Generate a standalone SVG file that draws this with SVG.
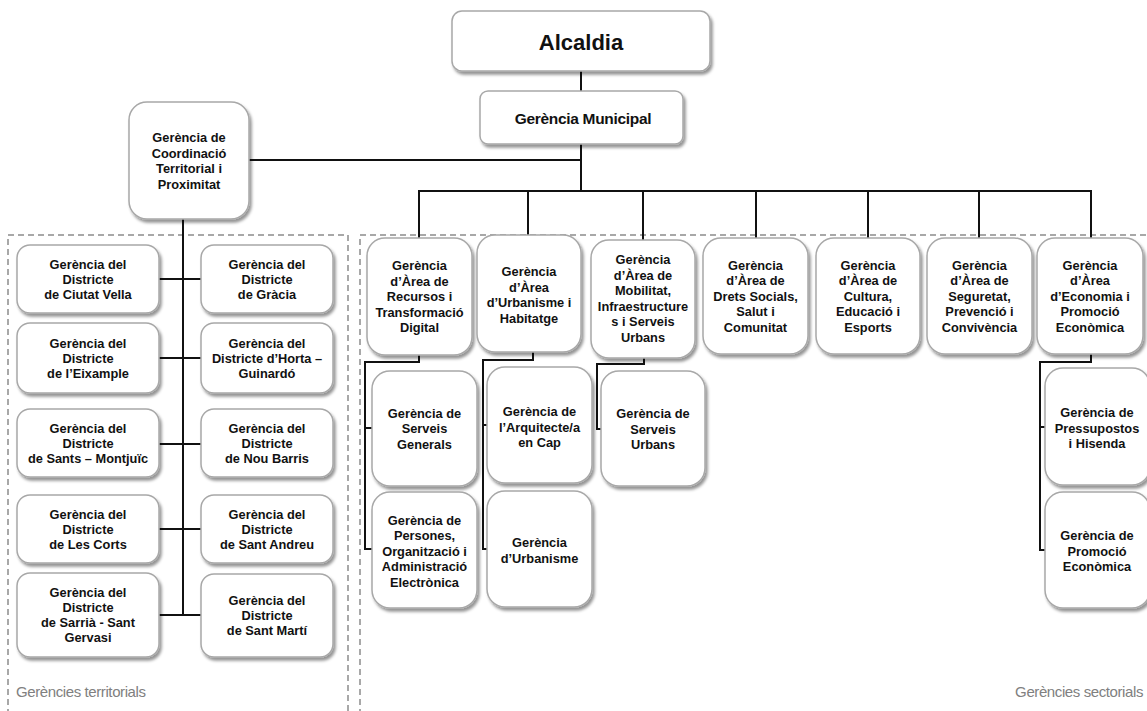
<svg xmlns="http://www.w3.org/2000/svg" width="1147" height="711" viewBox="0 0 1147 711">
<defs>
<filter id="sh" x="-10%" y="-10%" width="130%" height="130%">
<feDropShadow dx="2" dy="3" stdDeviation="1.6" flood-color="#000" flood-opacity="0.42"/>
</filter>
<style>
.box{fill:#fff;stroke:#a8a8a8;stroke-width:1.5;filter:url(#sh)}
.t{font-family:"Liberation Sans",Arial,sans-serif;font-weight:bold;font-size:12.8px;text-anchor:middle;fill:#111}
.conn{fill:none;stroke:#111;stroke-width:2}
.dash{fill:none;stroke:#8c8c8c;stroke-width:1.5;stroke-dasharray:6 4}
.lbl{font-family:"Liberation Sans",Arial,sans-serif;font-size:15px;fill:#808080;letter-spacing:-0.4px}
</style>
</defs>
<rect width="1147" height="711" fill="#fff"/>
<g id="groups">
<rect class="dash" x="8" y="235" width="340" height="500"/>
<rect class="dash" x="360" y="235" width="800" height="500"/>
<text class="lbl" x="16" y="697">Gerències territorials</text>
<text class="lbl" x="1143" y="697" text-anchor="end">Gerències sectorials</text>
</g>
<g id="connectors">
<path class="conn" d="M581 71V91M581 144V191M249 160H581M419 238V191H1091V238M528 191V235M643 191V240M756 191V238M868 191V238M979 191V238"/>
<path class="conn" d="M183 219V615M159 279H201M159 358H201M159 444H201M159 529H201M159 615H201"/>
<path class="conn" d="M419 355V362H365V549H372M365 428H372"/>
<path class="conn" d="M533 352V360H483V549H487M483 425H487"/>
<path class="conn" d="M644 358V364H597V429H601"/>
<path class="conn" d="M1091 354V362H1040V550H1045M1040 427H1045"/>
</g>
<g id="alcaldia"><rect class="box" x="452" y="11" width="258" height="60" rx="10"/>
<text class="t" x="581" y="50" style="font-size:22px">Alcaldia</text></g>
<g id="gerencia-municipal"><rect class="box" x="480" y="91" width="203" height="53" rx="8"/>
<text class="t" x="583" y="124" style="font-size:15.5px;letter-spacing:-0.3px">Gerència Municipal</text></g>
<g id="coordinacio"><rect class="box" x="129" y="102" width="120" height="117" rx="18"/>
<text class="t" x="189" y="142"><tspan x="189">Gerència de</tspan><tspan x="189" dy="15.5">Coordinació</tspan><tspan x="189" dy="15.5">Territorial i</tspan><tspan x="189" dy="15.5">Proximitat</tspan></text></g>

<g id="ciutat-vella"><rect class="box" x="17" y="245" width="142" height="68" rx="13"/>
<text class="t" y="269"><tspan x="88">Gerència del</tspan><tspan x="88" dy="15">Districte</tspan><tspan x="88" dy="15">de Ciutat Vella</tspan></text></g>
<g id="gracia"><rect class="box" x="201" y="245" width="132" height="68" rx="13"/>
<text class="t" y="269"><tspan x="267">Gerència del</tspan><tspan x="267" dy="15">Districte</tspan><tspan x="267" dy="15">de Gràcia</tspan></text></g>
<g id="eixample"><rect class="box" x="17" y="323" width="142" height="70" rx="13"/>
<text class="t" y="348"><tspan x="88">Gerència del</tspan><tspan x="88" dy="15">Districte</tspan><tspan x="88" dy="15">de l’Eixample</tspan></text></g>
<g id="horta"><rect class="box" x="201" y="323" width="132" height="70" rx="13"/>
<text class="t" y="348"><tspan x="267">Gerència del</tspan><tspan x="267" dy="15">Districte d’Horta –</tspan><tspan x="267" dy="15">Guinardó</tspan></text></g>
<g id="sants"><rect class="box" x="17" y="409" width="142" height="68" rx="13"/>
<text class="t" y="433"><tspan x="88">Gerència del</tspan><tspan x="88" dy="15">Districte</tspan><tspan x="88" dy="15">de Sants – Montjuïc</tspan></text></g>
<g id="nou-barris"><rect class="box" x="201" y="409" width="132" height="68" rx="13"/>
<text class="t" y="433"><tspan x="267">Gerència del</tspan><tspan x="267" dy="15">Districte</tspan><tspan x="267" dy="15">de Nou Barris</tspan></text></g>
<g id="les-corts"><rect class="box" x="17" y="495" width="142" height="68" rx="13"/>
<text class="t" y="519"><tspan x="88">Gerència del</tspan><tspan x="88" dy="15">Districte</tspan><tspan x="88" dy="15">de Les Corts</tspan></text></g>
<g id="sant-andreu"><rect class="box" x="201" y="495" width="132" height="68" rx="13"/>
<text class="t" y="519"><tspan x="267">Gerència del</tspan><tspan x="267" dy="15">Districte</tspan><tspan x="267" dy="15">de Sant Andreu</tspan></text></g>
<g id="sarria"><rect class="box" x="17" y="573" width="142" height="84" rx="13"/>
<text class="t" y="596.5"><tspan x="88">Gerència del</tspan><tspan x="88" dy="15.3">Districte</tspan><tspan x="88" dy="15.3">de Sarrià - Sant</tspan><tspan x="88" dy="15.3">Gervasi</tspan></text></g>
<g id="sant-marti"><rect class="box" x="201" y="574" width="132" height="83" rx="13"/>
<text class="t" y="604.5"><tspan x="267">Gerència del</tspan><tspan x="267" dy="15">Districte</tspan><tspan x="267" dy="15">de Sant Martí</tspan></text></g>

<g id="recursos"><rect class="box" x="367" y="238" width="105" height="117" rx="18"/>
<text class="t" y="270"><tspan x="419.5">Gerència</tspan><tspan x="419.5" dy="15.5">d’Àrea de</tspan><tspan x="419.5" dy="15.5">Recursos i</tspan><tspan x="419.5" dy="15.5">Transformació</tspan><tspan x="419.5" dy="15.5">Digital</tspan></text></g>
<g id="urbanisme-habitatge"><rect class="box" x="477" y="235" width="104" height="117" rx="18"/>
<text class="t" y="276"><tspan x="529">Gerència</tspan><tspan x="529" dy="15.5">d’Àrea</tspan><tspan x="529" dy="15.5">d’Urbanisme i</tspan><tspan x="529" dy="15.5">Habitatge</tspan></text></g>
<g id="mobilitat"><rect class="box" x="591" y="240" width="104" height="118" rx="18"/>
<text class="t" y="264"><tspan x="643">Gerència</tspan><tspan x="643" dy="15.5">d’Àrea de</tspan><tspan x="643" dy="15.5">Mobilitat,</tspan><tspan x="643" dy="15.5">Infraestructure</tspan><tspan x="643" dy="15.5">s i Serveis</tspan><tspan x="643" dy="15.5">Urbans</tspan></text></g>
<g id="drets-socials"><rect class="box" x="703" y="238" width="105" height="116" rx="18"/>
<text class="t" y="269.5"><tspan x="755.5">Gerència</tspan><tspan x="755.5" dy="15.5">d’Àrea de</tspan><tspan x="755.5" dy="15.5">Drets Socials,</tspan><tspan x="755.5" dy="15.5">Salut i</tspan><tspan x="755.5" dy="15.5">Comunitat</tspan></text></g>
<g id="cultura"><rect class="box" x="816" y="238" width="104" height="116" rx="18"/>
<text class="t" y="269.5"><tspan x="868">Gerència</tspan><tspan x="868" dy="15.5">d’Àrea de</tspan><tspan x="868" dy="15.5">Cultura,</tspan><tspan x="868" dy="15.5">Educació i</tspan><tspan x="868" dy="15.5">Esports</tspan></text></g>
<g id="seguretat"><rect class="box" x="927" y="238" width="105" height="116" rx="18"/>
<text class="t" y="269.5"><tspan x="979.5">Gerència</tspan><tspan x="979.5" dy="15.5">d’Àrea de</tspan><tspan x="979.5" dy="15.5">Seguretat,</tspan><tspan x="979.5" dy="15.5">Prevenció i</tspan><tspan x="979.5" dy="15.5">Convivència</tspan></text></g>
<g id="economia"><rect class="box" x="1037" y="238" width="106" height="116" rx="18"/>
<text class="t" y="269.5"><tspan x="1090">Gerència</tspan><tspan x="1090" dy="15.5">d’Àrea</tspan><tspan x="1090" dy="15.5">d’Economia i</tspan><tspan x="1090" dy="15.5">Promoció</tspan><tspan x="1090" dy="15.5">Econòmica</tspan></text></g>

<g id="serveis-generals"><rect class="box" x="372" y="371" width="105" height="115" rx="18"/>
<text class="t" y="417.5"><tspan x="424.5">Gerència de</tspan><tspan x="424.5" dy="15.5">Serveis</tspan><tspan x="424.5" dy="15.5">Generals</tspan></text></g>
<g id="persones"><rect class="box" x="372" y="492" width="105" height="116" rx="18"/>
<text class="t" y="524.5"><tspan x="424.5">Gerència de</tspan><tspan x="424.5" dy="15.5">Persones,</tspan><tspan x="424.5" dy="15.5">Organització i</tspan><tspan x="424.5" dy="15.5">Administració</tspan><tspan x="424.5" dy="15.5">Electrònica</tspan></text></g>
<g id="arquitecte"><rect class="box" x="487" y="367" width="105" height="116" rx="18"/>
<text class="t" y="416"><tspan x="539.5">Gerència de</tspan><tspan x="539.5" dy="15.5">l’Arquitecte/a</tspan><tspan x="539.5" dy="15.5">en Cap</tspan></text></g>
<g id="urbanisme"><rect class="box" x="487" y="491" width="105" height="116" rx="18"/>
<text class="t" y="547"><tspan x="539.5">Gerència</tspan><tspan x="539.5" dy="15.5">d’Urbanisme</tspan></text></g>
<g id="serveis-urbans"><rect class="box" x="601" y="371" width="104" height="115" rx="18"/>
<text class="t" y="418"><tspan x="653">Gerència de</tspan><tspan x="653" dy="15.5">Serveis</tspan><tspan x="653" dy="15.5">Urbans</tspan></text></g>
<g id="pressupostos"><rect class="box" x="1045" y="368" width="105" height="117" rx="18"/>
<text class="t" y="417"><tspan x="1097">Gerència de</tspan><tspan x="1097" dy="15.5">Pressupostos</tspan><tspan x="1097" dy="15.5">i Hisenda</tspan></text></g>
<g id="promocio-economica"><rect class="box" x="1045" y="492" width="105" height="116" rx="18"/>
<text class="t" y="540"><tspan x="1097">Gerència de</tspan><tspan x="1097" dy="15.5">Promoció</tspan><tspan x="1097" dy="15.5">Econòmica</tspan></text></g>
</svg>
